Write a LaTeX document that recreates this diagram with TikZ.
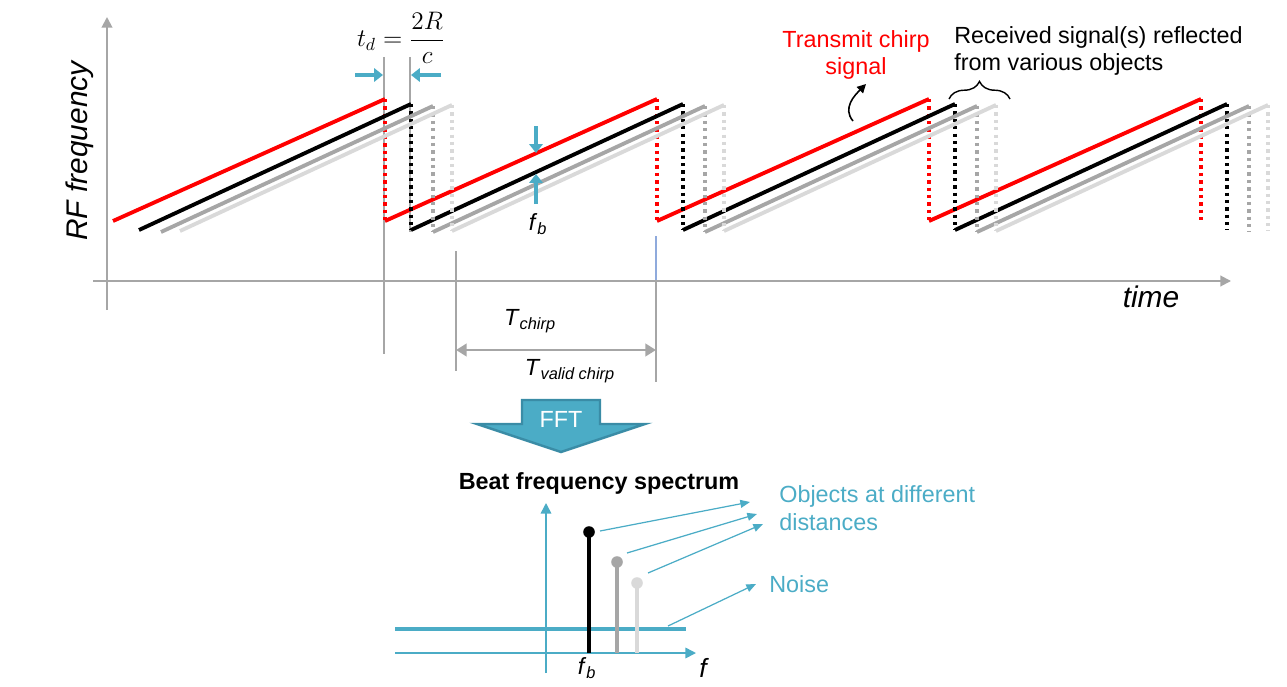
\documentclass[tikz,border=0pt]{standalone}
\usepackage[no-math]{fontspec}
\setmainfont{Liberation Sans}
\usepackage{xcolor}
\usepackage{tikz}
\usetikzlibrary{arrows.meta,positioning,calc,decorations.pathreplacing}
\definecolor{cRed}{HTML}{FF0000}
\definecolor{cInk}{HTML}{000000}
\definecolor{cGray}{HTML}{A6A6A6}
\definecolor{cLight}{HTML}{D9D9D9}
\definecolor{cAqua}{HTML}{4BACC6}
\definecolor{cAquaDk}{HTML}{3A8CA6}
\definecolor{cSteel}{HTML}{8FAADC}
\tikzset{
  ramp/.style={draw=#1,line width=2.2pt},
  drop/.style={draw=#1,line width=1.9pt,dash pattern=on 1.9pt off 2.3pt},
  guide/.style={draw=#1,line width=0.8pt},
  guide/.default=cGray,
  ax/.style={draw=#1,line width=1.1pt,-{Triangle[length=6pt,width=6pt]}},
  ax/.default=cGray,
  txt/.style={font=\fontsize{13.3}{15.8}\selectfont,inner sep=0pt,text=#1},
  txt/.default=cInk,
  big/.style={font=\fontsize{17}{20}\selectfont\itshape,inner sep=0pt,text=cInk},
  parr/.style={draw=cAqua,line width=2.3pt,-{Triangle[length=5pt,width=7.5pt]}},
  span/.style={draw=cGray,line width=1.7pt,{Triangle[length=6pt,width=7pt]}-{Triangle[length=6pt,width=7pt]}},
  callout/.style={draw=cAqua,line width=0.7pt,-{Triangle[length=5.5pt,width=4.5pt]}},
  stem/.style={draw=#1,line width=2pt},
  peak/.style={circle,fill=#1,inner sep=0pt,minimum size=6.6pt},
}
\begin{document}
\begin{tikzpicture}[x=0.02cm,y=-0.02cm]
  \useasboundingbox (0,0) rectangle (1287,686);
  \draw[guide] (384,57) -- (384,354);
  \draw[guide] (410,57) -- (410,232);
  \draw[guide] (456,251) -- (456,371);
  \draw[guide=cSteel] (656,236) -- (656,281);
  \draw[guide] (656,281) -- (656,382);
  \coordinate (yb) at (107,310); \coordinate (yt) at (107,17);
  \coordinate (xl) at (93,281); \coordinate (xr) at (1231,281);
  \draw[ax] (yb) -- (yt);
  \draw[ax] (xl) -- (xr);
  \node[big,rotate=90] (rf) at (80,151) {RF frequency};
  \node[big] (time) at (1151,297) {time};
  \foreach \col/\sx/\lo/\hi in {cRed/113/221/99,cInk/139/230/104,cGray/161/232/106,cLight/180/231/105}{
    \foreach \k in {0,...,3}{
      \draw[ramp=\col] (\sx+272*\k,\lo) -- (\sx+272*\k+272,\hi);
      \draw[drop=\col] (\sx+272*\k+272,\hi) -- (\sx+272*\k+272,\lo);
    }
  }
  \node[txt,font=\fontsize{14.5}{17}\selectfont] (td) at (401,38) {$t_d = \displaystyle\frac{2R}{c}$};
  \coordinate (tdl0) at (355,75); \coordinate (tdl1) at (383,75);
  \coordinate (tdr0) at (441,75); \coordinate (tdr1) at (411,75);
  \draw[parr] (tdl0) -- (tdl1);
  \draw[parr] (tdr0) -- (tdr1);
  \coordinate (fbu0) at (536,126); \coordinate (fbu1) at (536,153);
  \coordinate (fbd0) at (536,204); \coordinate (fbd1) at (536,174);
  \draw[parr,line width=1.9pt] (fbu0) -- (fbu1);
  \draw[parr,line width=1.9pt] (fbd0) -- (fbd1);
  \node[txt] (fb) at (538,224) {\textit{f}\textsubscript{\textit{b}}};
  \node[txt] (tch) at (530,321) {\textit{T}\textsubscript{\textit{chirp}}};
  \coordinate (tv0) at (456,350); \coordinate (tv1) at (656,350);
  \draw[span] (tv0) -- (tv1);
  \node[txt] (tvc) at (570,371) {\textit{T}\textsubscript{\textit{valid chirp}}};
  \node[txt=cRed,align=center] (tx) at (856,55) {Transmit chirp\\signal};
  \node[txt,align=left,anchor=west] (rx) at (954,51) {Received signal(s) reflected\\from various objects};
  \coordinate (br0) at (949,99); \coordinate (br1) at (1010,99);
  \draw[line width=0.8pt,decorate,decoration={brace,amplitude=10pt}] (br0) -- (br1);
  \coordinate (cv0) at (853,121); \coordinate (cv1) at (866,84);
  \draw[line width=0.9pt,-{Triangle[length=5pt,width=5pt]}] (cv0) .. controls (842,108) and (855,95) .. (cv1);
  \draw[fill=cAqua,draw=cAquaDk,line width=1.4pt] (522,400) -- (600,400) -- (600,424) -- (645,424) -- (561,452) -- (477,424) -- (522,424) -- cycle;
  \node[txt=white] (fft) at (561,419) {FFT};
  \node[txt,font=\fontsize{13.3}{15.8}\selectfont\bfseries] (title) at (599,483) {Beat frequency spectrum};
  \coordinate (sb) at (546,673); \coordinate (st) at (546,503);
  \coordinate (sl) at (395,653); \coordinate (sr) at (696,653);
  \draw[ax=cAqua,line width=0.9pt] (sb) -- (st);
  \draw[ax=cAqua,line width=0.9pt] (sl) -- (sr);
  \coordinate (nl) at (395,629); \coordinate (nr) at (686,629);
  \draw[cAqua,line width=2.4pt] (nl) -- (nr);
  \node[peak=cInk] (p1) at (589,532) {};
  \node[peak=cGray] (p2) at (617,562) {};
  \node[peak=cLight] (p3) at (637,583) {};
  \draw[stem=cInk] (589,653) -- (p1.center);
  \draw[stem=cGray] (617,653) -- (p2.center);
  \draw[stem=cLight] (637,653) -- (p3.center);
  \node[txt=cAqua,align=left,anchor=west] (objs) at (779,508) {Objects at different\\distances};
  \node[txt=cAqua,anchor=west] (noise) at (769,584) {Noise};
  \coordinate (a1) at (600,531); \coordinate (b1) at (750,502);
  \coordinate (a2) at (627,553); \coordinate (b2) at (757,514);
  \coordinate (a3) at (648,573); \coordinate (b3) at (763,524);
  \coordinate (a4) at (668,626); \coordinate (b4) at (756,584);
  \draw[callout] (a1) -- (b1);
  \draw[callout] (a2) -- (b2);
  \draw[callout] (a3) -- (b3);
  \draw[callout] (a4) -- (b4);
  \node[txt] (fbs) at (587,668) {\textit{f}\textsubscript{\textit{b}}};
  \node[txt,font=\fontsize{15}{18}\selectfont\itshape] (fax) at (703,668) {f};
\end{tikzpicture}
\end{document}
